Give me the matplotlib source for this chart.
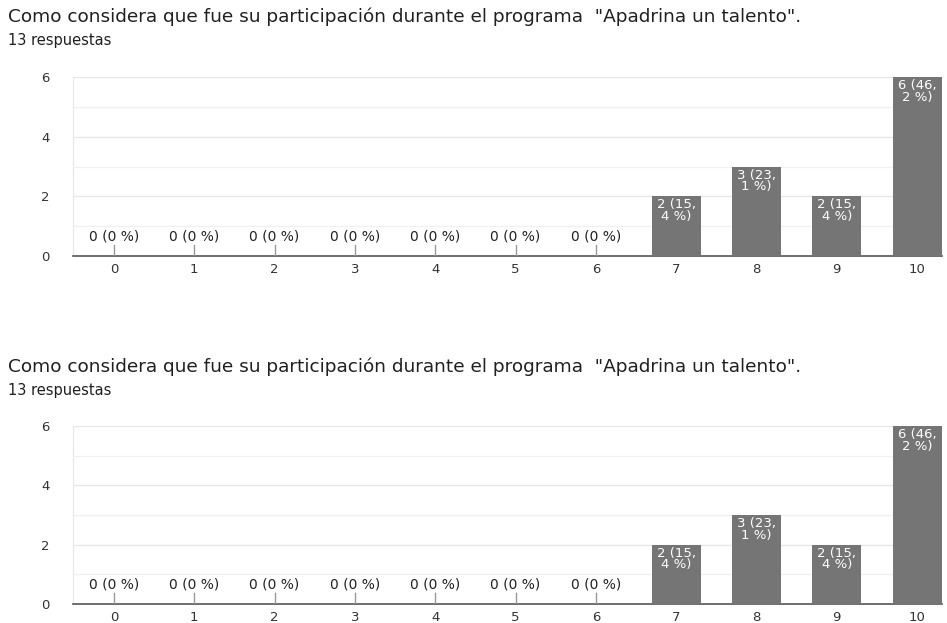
import matplotlib
matplotlib.use("Agg")
import matplotlib.pyplot as plt

title = 'Como considera que fue su participación durante el programa  "Apadrina un talento".'
subtitle = "13 respuestas"
categories = ["0", "1", "2", "3", "4", "5", "6", "7", "8", "9", "10"]
counts = [0, 0, 0, 0, 0, 0, 0, 2, 3, 2, 6]
labels = ["0 (0 %)", "0 (0 %)", "0 (0 %)", "0 (0 %)", "0 (0 %)", "0 (0 %)", "0 (0 %)",
          "2 (15,\n4 %)", "3 (23,\n1 %)", "2 (15,\n4 %)", "6 (46,\n2 %)"]
yticks = [0, 2, 4, 6]

plt.rcParams['font.family'] = ['DejaVu Sans']

fig = plt.figure(figsize=(9.47, 6.23), dpi=100)
W, H = 947, 623

def draw(top_px, ax_top, ax_bot):
    ax = fig.add_axes([73 / W, 1 - ax_bot / H, (942 - 73) / W, (ax_bot - ax_top) / H])
    x = list(range(len(categories)))
    ax.bar(x, counts, width=0.61, color="#757575", zorder=3)
    ax.set_xlim(-0.51, 10.31)
    ax.set_ylim(0, 6)
    for g in range(1, 7):
        ax.axhline(g, color="#e6e6e6" if g % 2 == 0 else "#f0f0f0", lw=0.9, zorder=0)
    ax.set_yticks(yticks)
    ax.set_xticks(x)
    ax.set_xticklabels(categories)
    ax.tick_params(axis="both", length=0, labelsize=9.5, colors="#333333")
    ax.tick_params(axis="y", pad=17)
    ax.tick_params(axis="x", pad=5)
    for s in ["top", "right"]:
        ax.spines[s].set_visible(False)
    ax.spines["left"].set_color("#e6e6e6")
    ax.spines["bottom"].set_color("#555555")
    ax.spines["bottom"].set_linewidth(1.2)
    for xi, c, lab in zip(x, counts, labels):
        if c == 0:
            ax.plot([xi, xi], [0, 0.36], color="#999999", lw=1, zorder=4)
            ax.text(xi, 0.42, lab, ha="center", va="bottom", fontsize=10, color="#222222")
        else:
            ax.text(xi, c - 0.07, lab, ha="center", va="top", fontsize=9.5,
                    color="white", linespacing=0.85, zorder=5)
    fig.text(8 / W, 1 - (top_px) / H, title, fontsize=13.3, color="#202020", va="center")
    fig.text(8 / W, 1 - (top_px + 24) / H, subtitle, fontsize=10.5, color="#202020", va="center")

draw(17, 77, 256)
draw(367, 426, 604)

fig.savefig("out.png", dpi=100)
